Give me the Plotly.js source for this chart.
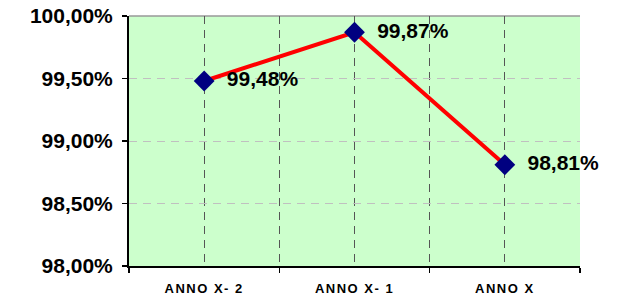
<!DOCTYPE html>
<html>
<head>
<meta charset="utf-8">
<script src="https://cdn.plot.ly/plotly-3.0.1.min.js"></script>
<style>
html,body{margin:0;padding:0;background:#fff;}
#chart{width:618px;height:298px;}
.xtick text{letter-spacing:1.5px;}
</style>
</head>
<body>
<div id="chart"></div>
<script>
const categories = ["ANNO X- 2", "ANNO X- 1", "ANNO X"];
const values = [99.48, 99.87, 98.81];
const yTicks = [98, 98.5, 99, 99.5, 100];

const xIdx = categories.map((c, i) => i);
const fmt = v => v.toFixed(2).replace('.', ',') + '%';

const trace = {
  x: xIdx,
  y: values,
  type: 'scatter',
  mode: 'lines+markers+text',
  line: {color: '#ff0000', width: 4},
  marker: {symbol: 'diamond', size: 16, color: '#000080'},
  text: values.map(v => '  ' + fmt(v)),
  textposition: 'middle right',
  textfont: {family: 'Liberation Sans, Arial, sans-serif', size: 21, color: '#000', weight: 'bold'},
  cliponaxis: false,
  hoverinfo: 'skip'
};

const layout = {
  width: 618,
  height: 298,
  margin: {l: 129, r: 38, t: 16, b: 32},
  paper_bgcolor: '#ffffff',
  plot_bgcolor: '#ccffcc',
  showlegend: false,
  font: {family: 'Liberation Sans, Arial, sans-serif', color: '#000'},
  xaxis: {
    range: [-0.5, 2.5],
    tickmode: 'array',
    tickvals: xIdx,
    ticktext: categories,
    ticks: '',
    tickfont: {size: 13, weight: 'bold'},
    ticklabelstandoff: 9,
    showgrid: true,
    gridcolor: '#555555',
    gridwidth: 1,
    griddash: '8px,6px',
    zeroline: false,
    showline: true,
    linecolor: '#000',
    linewidth: 2,
    minor: {
      tickmode: 'array',
      tickvals: [-0.5, 0.5, 1.5, 2.5],
      ticks: 'outside',
      ticklen: 5,
      tickwidth: 1.5,
      tickcolor: '#000',
      showgrid: true,
      gridcolor: '#555555',
      gridwidth: 1,
      griddash: '8px,6px'
    },
    fixedrange: true
  },
  yaxis: {
    range: [98, 100],
    tickmode: 'array',
    tickvals: yTicks,
    ticktext: yTicks.map(fmt),
    ticks: 'outside',
    ticklen: 5,
    tickwidth: 1.5,
    tickcolor: '#000',
    tickfont: {size: 21, weight: 'bold'},
    ticklabelstandoff: 5,
    showgrid: true,
    gridcolor: '#c0c0c0',
    gridwidth: 1,
    griddash: '8px,6px',
    zeroline: false,
    showline: true,
    linecolor: '#000',
    linewidth: 2,
    fixedrange: true
  },
  shapes: [
    {type: 'line', xref: 'paper', yref: 'paper', x0: 0, x1: 1, y0: 1, y1: 1,
     line: {color: '#999999', width: 1.5}, layer: 'below'}
  ]
};

Plotly.newPlot('chart', [trace], layout, {displayModeBar: false, staticPlot: true});
</script>
</body>
</html>
